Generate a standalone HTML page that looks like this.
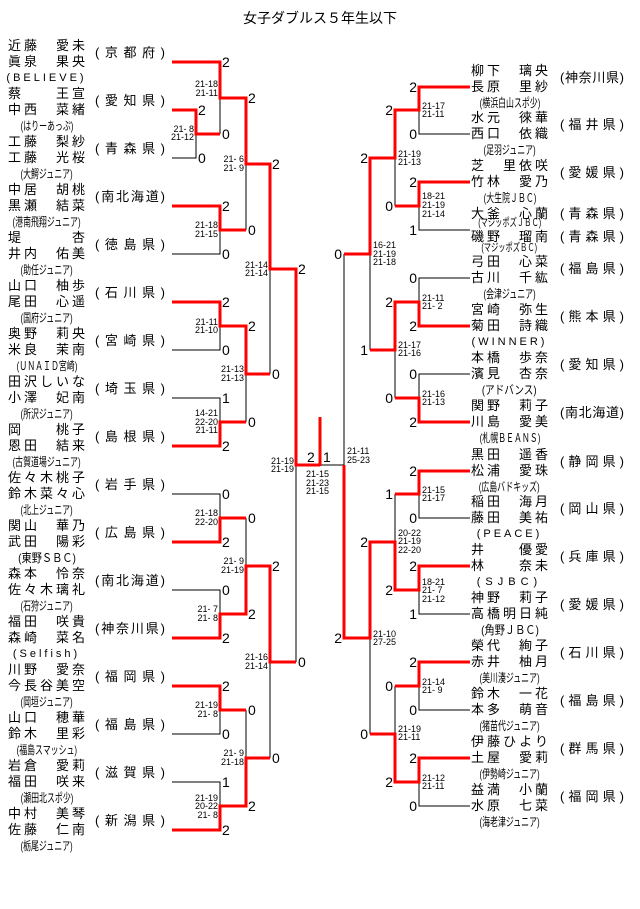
<!DOCTYPE html>
<html><head><meta charset="utf-8">
<style>
body{margin:0;background:#fff;}
#w{position:relative;width:640px;height:909px;overflow:hidden;font-family:"Liberation Sans","Noto Sans CJK JP",sans-serif;color:#000;}
.t{position:absolute;left:0;top:10px;width:640px;text-align:center;font-size:14px;line-height:16px;}
.b{position:absolute;width:77px;font-size:13px;line-height:16px;}
.b div{text-align:justify;text-align-last:justify;text-justify:inter-character;white-space:nowrap;height:16px;}
.b div.c{display:flex;justify-content:center;font-size:12px;}
.c>span{display:inline-block;white-space:nowrap;transform:scaleX(.66);}
.b div.w{font-size:11px;letter-spacing:3px;}
.w>span{transform:none;}
.p{position:absolute;font-size:13px;line-height:16px;text-align:justify;text-align-last:justify;text-justify:inter-character;white-space:nowrap;}
svg{position:absolute;left:0;top:0;}
svg text{font-family:"Liberation Sans",sans-serif;}
.s{font-size:9px;white-space:pre;}
.n{font-size:14px;}
</style></head><body><div id="w">
<div class="t">女子ダブルス５年生以下</div>

<div class="b" style="left:8px;top:38px"><div>近藤　愛未</div><div>眞泉　果央</div><div class="c w"><span>(BELIEVE)</span></div></div><div class="p" style="left:95px;top:45px;width:70px">(京都府)</div>
<div class="b" style="left:8px;top:86px"><div>蔡　　王宣</div><div>中西　菜緒</div><div class="c"><span>(はりーあっぷ)</span></div></div><div class="p" style="left:95px;top:93px;width:70px">(愛知県)</div>
<div class="b" style="left:8px;top:134px"><div>工藤　梨紗</div><div>工藤　光桜</div><div class="c"><span>(大鰐ジュニア)</span></div></div><div class="p" style="left:95px;top:141px;width:70px">(青森県)</div>
<div class="b" style="left:8px;top:182px"><div>中居　胡桃</div><div>黒瀬　結菜</div><div class="c"><span>(港南飛翔ジュニア)</span></div></div><div class="p" style="left:95px;top:189px;width:70px">(南北海道)</div>
<div class="b" style="left:8px;top:230px"><div>堤　　　杏</div><div>井内　佑美</div><div class="c"><span>(助任ジュニア)</span></div></div><div class="p" style="left:95px;top:237px;width:70px">(徳島県)</div>
<div class="b" style="left:8px;top:278px"><div>山口　柚歩</div><div>尾田　心遥</div><div class="c"><span>(国府ジュニア)</span></div></div><div class="p" style="left:95px;top:285px;width:70px">(石川県)</div>
<div class="b" style="left:8px;top:326px"><div>奥野　莉央</div><div>米良　茉南</div><div class="c"><span>(ＵＮＡＩＤ宮崎)</span></div></div><div class="p" style="left:95px;top:333px;width:70px">(宮崎県)</div>
<div class="b" style="left:8px;top:374px"><div>田沢しいな</div><div>小澤　妃南</div><div class="c"><span>(所沢ジュニア)</span></div></div><div class="p" style="left:95px;top:381px;width:70px">(埼玉県)</div>
<div class="b" style="left:8px;top:422px"><div>岡　　桃子</div><div>恩田　結来</div><div class="c"><span>(古賀道場ジュニア)</span></div></div><div class="p" style="left:95px;top:429px;width:70px">(島根県)</div>
<div class="b" style="left:8px;top:470px"><div>佐々木桃子</div><div>鈴木菜々心</div><div class="c"><span>(北上ジュニア)</span></div></div><div class="p" style="left:95px;top:477px;width:70px">(岩手県)</div>
<div class="b" style="left:8px;top:518px"><div>関山　華乃</div><div>武田　陽彩</div><div class="c"><span style="transform:scaleX(.85)">(東野ＳＢＣ)</span></div></div><div class="p" style="left:95px;top:525px;width:70px">(広島県)</div>
<div class="b" style="left:8px;top:566px"><div>森本　怜奈</div><div>佐々木璃礼</div><div class="c"><span>(石狩ジュニア)</span></div></div><div class="p" style="left:95px;top:573px;width:70px">(南北海道)</div>
<div class="b" style="left:8px;top:614px"><div>福田　咲貴</div><div>森崎　菜名</div><div class="c w"><span>(Selfish)</span></div></div><div class="p" style="left:95px;top:621px;width:70px">(神奈川県)</div>
<div class="b" style="left:8px;top:662px"><div>川野　愛奈</div><div>今長谷美空</div><div class="c"><span>(岡垣ジュニア)</span></div></div><div class="p" style="left:95px;top:669px;width:70px">(福岡県)</div>
<div class="b" style="left:8px;top:710px"><div>山口　穂華</div><div>鈴木　里彩</div><div class="c"><span>(福島スマッシュ)</span></div></div><div class="p" style="left:95px;top:717px;width:70px">(福島県)</div>
<div class="b" style="left:8px;top:758px"><div>岩倉　愛莉</div><div>福田　咲来</div><div class="c"><span>(瀬田北スポ少)</span></div></div><div class="p" style="left:95px;top:765px;width:70px">(滋賀県)</div>
<div class="b" style="left:8px;top:806px"><div>中村　美琴</div><div>佐藤　仁南</div><div class="c"><span>(栃尾ジュニア)</span></div></div><div class="p" style="left:95px;top:813px;width:70px">(新潟県)</div>

<div class="b" style="left:471px;top:63px"><div>柳下　璃央</div><div>長原　里紗</div><div class="c"><span>(横浜白山スポ少)</span></div></div><div class="p" style="left:560px;top:70px;width:64px">(神奈川県)</div>
<div class="b" style="left:471px;top:110px"><div>水元　徠華</div><div>西口　依織</div><div class="c"><span>(足羽ジュニア)</span></div></div><div class="p" style="left:560px;top:117px;width:64px">(福井県)</div>
<div class="b" style="left:471px;top:158px"><div>芝　里依咲</div><div>竹林　愛乃</div><div class="c"><span>(大生院ＪＢＣ)</span></div></div><div class="p" style="left:560px;top:165px;width:64px">(愛媛県)</div>
<div class="b" style="left:471px;top:206px"><div>大釜　心蘭</div></div><div class="b" style="left:471px;top:218px"><div class="c" style="font-size:11px;line-height:10px;height:10px"><span>(マジッポズＪＢＣ)</span></div></div>
<div class="b" style="left:471px;top:229px"><div>磯野　瑠南</div></div><div class="b" style="left:471px;top:243px"><div class="c" style="font-size:11px;line-height:10px;height:10px"><span>(マジッポズＢＣ)</span></div></div>
<div class="p" style="left:560px;top:206px;width:64px">(青森県)</div><div class="p" style="left:560px;top:229px;width:64px">(青森県)</div>
<div class="b" style="left:471px;top:254px"><div>弓田　心菜</div><div>古川　千紘</div><div class="c"><span>(会津ジュニア)</span></div></div><div class="p" style="left:560px;top:261px;width:64px">(福島県)</div>
<div class="b" style="left:471px;top:302px"><div>宮崎　弥生</div><div>菊田　詩織</div><div class="c w"><span>(WINNER)</span></div></div><div class="p" style="left:560px;top:309px;width:64px">(熊本県)</div>
<div class="b" style="left:471px;top:350px"><div>本橋　歩奈</div><div>濱見　杏奈</div><div class="c"><span style="transform:scaleX(.8)">(アドバンス)</span></div></div><div class="p" style="left:560px;top:357px;width:64px">(愛知県)</div>
<div class="b" style="left:471px;top:398px"><div>関野　莉子</div><div>川島　愛美</div><div class="c"><span>(札幌ＢＥＡＮＳ)</span></div></div><div class="p" style="left:560px;top:405px;width:64px">(南北海道)</div>
<div class="b" style="left:471px;top:447px"><div>黒田　遥香</div><div>松浦　愛珠</div><div class="c"><span>(広島バドキッズ)</span></div></div><div class="p" style="left:560px;top:454px;width:64px">(静岡県)</div>
<div class="b" style="left:471px;top:494px"><div>稲田　海月</div><div>藤田　美祐</div><div class="c w"><span>(PEACE)</span></div></div><div class="p" style="left:560px;top:501px;width:64px">(岡山県)</div>
<div class="b" style="left:471px;top:542px"><div>井　　優愛</div><div>林　　奈未</div><div class="c w" style="letter-spacing:5px"><span>(SJBC)</span></div></div><div class="p" style="left:560px;top:549px;width:64px">(兵庫県)</div>
<div class="b" style="left:471px;top:590px"><div>神野　莉子</div><div>高橋明日純</div><div class="c"><span style="transform:scaleX(.85)">(角野ＪＢＣ)</span></div></div><div class="p" style="left:560px;top:597px;width:64px">(愛媛県)</div>
<div class="b" style="left:471px;top:638px"><div>榮代　絢子</div><div>赤井　柚月</div><div class="c"><span>(美川湊ジュニア)</span></div></div><div class="p" style="left:560px;top:645px;width:64px">(石川県)</div>
<div class="b" style="left:471px;top:686px"><div>鈴木　一花</div><div>本多　萌音</div><div class="c"><span>(猪苗代ジュニア)</span></div></div><div class="p" style="left:560px;top:693px;width:64px">(福島県)</div>
<div class="b" style="left:471px;top:734px"><div>伊藤ひより</div><div>土屋　愛莉</div><div class="c"><span>(伊勢崎ジュニア)</span></div></div><div class="p" style="left:560px;top:741px;width:64px">(群馬県)</div>
<div class="b" style="left:471px;top:782px"><div>益満　小蘭</div><div>水原　七菜</div><div class="c"><span>(海老津ジュニア)</span></div></div><div class="p" style="left:560px;top:789px;width:64px">(福岡県)</div>

<svg width="640" height="909" viewBox="0 0 640 909">
<g fill="none" stroke="#000" stroke-width="1" shape-rendering="crispEdges">
<path d="M172 158H196V110 M220 98V134 M172 254H220V230 M172 350H220V326 M172 398H220V422 M246 164V230 M246 374V422 M270 269V374 M172 494H220V518 M172 590H220V614 M246 518V566 M172 734H220V710 M172 782H220V806 M246 710V758 M270 662V758 M296 465V662 M320 465H344V254"/>
<path d="M470 134H419V110 M470 230H419V206 M395 158V206 M470 278H419V302 M470 374H419V398 M395 350V398 M370 254V350 M470 518H419V494 M470 614H419V590 M395 494V542 M470 710H419V686 M470 806H419V782 M395 686V734 M370 638V734"/>
</g>
<g fill="none" stroke="#f00" stroke-width="3" stroke-linejoin="miter">
<path d="M172 62H220V98H246V164H270V269H296V465H320 M320 417V466"/>
<path d="M172 110H196V134H220 M172 206H220V230H246 M172 302H220V326H246V374H270 M172 446H220V422H246 M172 542H220V518H246 M172 638H220V614H246V566H270V662H296 M172 686H220V710H246 M172 830H220V806H246V758H270"/>
<path d="M470 87H419V110H395V158H370V254H344 M470 182H419V206H395 M470 326H419V302H395V350H370 M470 422H419V398H395 M470 471H419V494H395 M470 566H419V590H395V542H370V638H344V465 M470 662H419V686H395 M470 758H419V782H395V734H370"/>
</g>
<g class="n" dominant-baseline="central">
<text x="222" y="62">2</text><text x="198" y="110">2</text><text x="198" y="158">0</text><text x="222" y="134">0</text><text x="248" y="98">2</text><text x="222" y="206">2</text><text x="222" y="254">0</text><text x="248" y="230">0</text><text x="272" y="164">2</text>
<text x="222" y="302">2</text><text x="222" y="350">0</text><text x="248" y="326">2</text><text x="222" y="398">1</text><text x="222" y="446">2</text><text x="248" y="422">0</text><text x="272" y="374">0</text><text x="298" y="269">2</text>
<text x="222" y="494">0</text><text x="222" y="542">2</text><text x="248" y="518">0</text><text x="222" y="590">0</text><text x="222" y="638">2</text><text x="248" y="614">2</text><text x="272" y="566">2</text><text x="222" y="686">2</text><text x="222" y="734">0</text><text x="248" y="710">0</text><text x="222" y="782">1</text><text x="222" y="830">2</text><text x="248" y="806">2</text><text x="272" y="758">0</text><text x="298" y="662">0</text>
<text x="307" y="457">2</text><text x="323" y="457">1</text>
</g>
<g class="n" dominant-baseline="central" text-anchor="end">
<text x="417" y="87">2</text><text x="417" y="134">0</text><text x="393" y="110">2</text><text x="417" y="182">2</text><text x="417" y="230">1</text><text x="393" y="206">0</text><text x="368" y="158">2</text><text x="417" y="278">0</text><text x="417" y="326">2</text><text x="393" y="302">2</text><text x="417" y="374">0</text><text x="417" y="422">2</text><text x="393" y="398">0</text><text x="368" y="350">1</text><text x="342" y="254">0</text>
<text x="417" y="471">2</text><text x="417" y="518">0</text><text x="393" y="494">1</text><text x="417" y="566">2</text><text x="417" y="614">1</text><text x="393" y="590">2</text><text x="368" y="542">2</text><text x="417" y="662">2</text><text x="417" y="710">0</text><text x="393" y="686">0</text><text x="417" y="758">2</text><text x="417" y="806">0</text><text x="393" y="782">2</text><text x="368" y="734">0</text><text x="342" y="638">2</text>
</g>
<g class="s" dominant-baseline="central" text-anchor="end">
<text x="194" y="129">21- 8</text><text x="194" y="137">21-12</text>
<text x="218" y="84">21-18</text><text x="218" y="93">21-11</text>
<text x="218" y="225">21-18</text><text x="218" y="234">21-15</text>
<text x="244" y="159">21- 6</text><text x="244" y="168">21- 9</text>
<text x="218" y="322">21-11</text><text x="218" y="330">21-10</text>
<text x="218" y="413">14-21</text><text x="218" y="422">22-20</text><text x="218" y="430">21-11</text>
<text x="244" y="369">21-13</text><text x="244" y="378">21-13</text>
<text x="268" y="265">21-14</text><text x="268" y="273">21-14</text>
<text x="294" y="461">21-19</text><text x="294" y="469">21-19</text>
<text x="218" y="513">21-18</text><text x="218" y="522">22-20</text>
<text x="218" y="609">21- 7</text><text x="218" y="618">21- 8</text>
<text x="244" y="561">21- 9</text><text x="244" y="570">21-19</text>
<text x="218" y="705">21-19</text><text x="218" y="714">21- 8</text>
<text x="218" y="798">21-19</text><text x="218" y="806">20-22</text><text x="218" y="815">21- 8</text>
<text x="244" y="753">21- 9</text><text x="244" y="762">21-18</text>
<text x="268" y="657">21-16</text><text x="268" y="666">21-14</text>
</g>
<g class="s" dominant-baseline="central">
<text x="306" y="474">21-15</text><text x="306" y="483">21-23</text><text x="306" y="491">21-15</text>
<text x="347" y="451">21-11</text><text x="347" y="460">25-23</text>
<text x="422" y="106">21-17</text><text x="422" y="114">21-11</text>
<text x="422" y="196">18-21</text><text x="422" y="205">21-19</text><text x="422" y="214">21-14</text>
<text x="398" y="154">21-19</text><text x="398" y="162">21-13</text>
<text x="373" y="245">16-21</text><text x="373" y="254">21-19</text><text x="373" y="262">21-18</text>
<text x="422" y="298">21-11</text><text x="422" y="306">21- 2</text>
<text x="398" y="345">21-17</text><text x="398" y="353">21-16</text>
<text x="422" y="394">21-16</text><text x="422" y="402">21-13</text>
<text x="422" y="490">21-15</text><text x="422" y="498">21-17</text>
<text x="398" y="533">20-22</text><text x="398" y="541">21-19</text><text x="398" y="550">22-20</text>
<text x="422" y="582">18-21</text><text x="422" y="590">21- 7</text><text x="422" y="599">21-12</text>
<text x="373" y="634">21-10</text><text x="373" y="642">27-25</text>
<text x="422" y="682">21-14</text><text x="422" y="690">21- 9</text>
<text x="398" y="729">21-19</text><text x="398" y="737">21-11</text>
<text x="422" y="778">21-12</text><text x="422" y="786">21-11</text>
</g>
</svg>
</div></body></html>
